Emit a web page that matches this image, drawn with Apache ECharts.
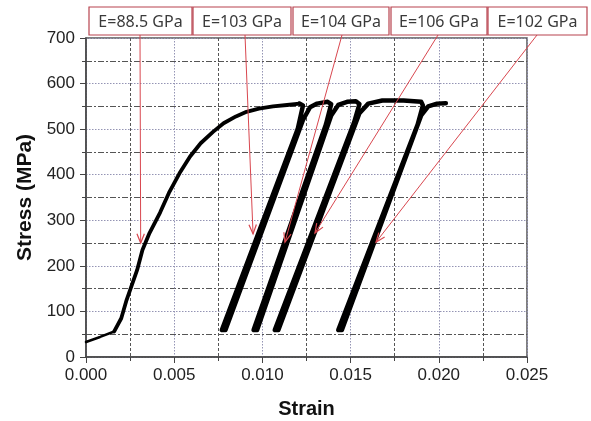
<!DOCTYPE html>
<html>
<head>
<meta charset="UTF-8">
<title>Stress-Strain</title>
<script src="https://cdn.jsdelivr.net/npm/echarts@6/dist/echarts.min.js"></script>
<style>
  html, body { margin: 0; padding: 0; background: #fff; }
  #chart { width: 591px; height: 421px; }
</style>
</head>
<body>
<div id="chart"></div>
<script>
// curve pieces, [strain, stress MPa]
var foot = [[0, 33], [0.0008, 44], [0.0016, 56]]
var loading = [[0.0016, 56], [0.0020, 85], [0.0023, 125], [0.0029, 191],
  [0.0032, 235], [0.0036, 272], [0.0042, 317], [0.0047, 360], [0.0053, 403], [0.0059, 440],
  [0.0065, 469], [0.0072, 494], [0.0078, 513], [0.0085, 528], [0.0091, 538], [0.0098, 545],
  [0.0106, 550], [0.0114, 553], [0.0121, 556]]
var unload1 = [[0.0123, 552], [0.0120, 500], [0.0077, 59]]
var reload1 = [[0.0079, 59], [0.0123, 520], [0.0127, 548], [0.0131, 556], [0.0137, 560]]
var unload2 = [[0.0139, 555], [0.0136, 510], [0.0095, 59]]
var reload2 = [[0.0097, 59], [0.0139, 530], [0.0143, 553], [0.0148, 560], [0.0153, 561]]
var unload3 = [[0.0155, 555], [0.0152, 515], [0.0107, 59]]
var reload3 = [[0.0109, 59], [0.0155, 535], [0.0160, 556], [0.0168, 563], [0.0180, 563], [0.0190, 560]]
var unload4 = [[0.0191, 552], [0.0188, 510], [0.0143, 59]]
var reload4 = [[0.0145, 59], [0.0190, 530], [0.0194, 550], [0.0199, 556], [0.0204, 557]]

var modulusLabels = ['E=88.5 GPa', 'E=103 GPa', 'E=104 GPa', 'E=106 GPa', 'E=102 GPa']
var arrowTargets = [[0.0031, 250], [0.00947, 270], [0.01128, 252], [0.01298, 272], [0.01644, 252]]

var cycles = [].concat(loading.slice(-1), unload1, reload1, unload2, reload2, unload3, reload3, unload4, reload4)

var chart = echarts.init(document.getElementById('chart'))

var dotted = { color: '#9494b4', width: 1, type: [1.5, 1.5] }

function curveSeries(data, w) {
  return {
    type: 'line', data: data, showSymbol: false, symbol: 'none', smooth: false,
    lineStyle: { color: '#000', width: w, join: 'round', cap: 'round' }, z: 5
  }
}

chart.setOption({
  animation: false,
  backgroundColor: '#fff',
  grid: {
    left: 86, right: 64, top: 38, bottom: 64,
    show: true, borderColor: '#555', borderWidth: 1.5,
    containLabel: false, outerBoundsMode: 'none'
  },
  xAxis: {
    type: 'value', min: 0, max: 0.025, interval: 0.005,
    name: 'Strain', nameLocation: 'middle', nameGap: 42,
    nameTextStyle: { fontFamily: 'Liberation Sans', fontWeight: 'bold', fontSize: 20, color: '#111' },
    axisLine: { show: true, onZero: false, lineStyle: { color: '#444', width: 1.5 } },
    axisTick: { show: true, length: 6, lineStyle: { color: '#444' } },
    minorTick: { show: true, splitNumber: 2, length: 4, lineStyle: { color: '#444' } },
    axisLabel: {
      fontFamily: 'Liberation Sans', fontSize: 17, color: '#222', margin: 10,
      formatter: function (v) { return v.toFixed(3) }
    },
    splitLine: { show: true, lineStyle: dotted },
    minorSplitLine: { show: true, lineStyle: { color: '#555', width: 1, type: [3, 2] } }
  },
  yAxis: {
    type: 'value', min: 0, max: 700, interval: 100,
    name: 'Stress (MPa)', nameLocation: 'middle', nameGap: 50,
    nameTextStyle: { fontFamily: 'Liberation Sans', fontWeight: 'bold', fontSize: 21, color: '#111' },
    axisLine: { show: true, onZero: false, lineStyle: { color: '#444', width: 1.5 } },
    axisTick: { show: true, length: 6, lineStyle: { color: '#444' } },
    minorTick: { show: true, splitNumber: 2, length: 4, lineStyle: { color: '#444' } },
    axisLabel: { fontFamily: 'Liberation Sans', fontSize: 17, color: '#222', margin: 11 },
    splitLine: { show: true, lineStyle: dotted },
    minorSplitLine: { show: true, lineStyle: { color: '#555', width: 1, type: [6, 2, 2, 2] } }
  },
  series: [
    curveSeries(foot, 2.5),
    curveSeries(loading, 3.8),
    curveSeries(cycles, 4.5)
  ]
})

// label boxes above the plot with arrows to the curve
var boxes = [[89, 103], [193, 98], [293, 96], [391, 96], [488, 99]]
var arrowStartX = [140, 245, 342, 438, 537]
var boxTop = 7, boxH = 28
var g = []
modulusLabels.forEach(function (txt, i) {
  var b = boxes[i]
  g.push({
    type: 'rect', z: 20,
    shape: { x: b[0], y: boxTop, width: b[1], height: boxH },
    style: { fill: '#fff', stroke: '#b8434f', lineWidth: 1.2 }
  })
  g.push({
    type: 'text', z: 21,
    style: {
      text: txt, x: b[0] + b[1] / 2, y: boxTop + boxH / 2 + 1,
      align: 'center', verticalAlign: 'middle',
      font: '16px "Noto Sans", sans-serif', fill: '#3a3a3a'
    }
  })
  var tip = chart.convertToPixel({ gridIndex: 0 }, arrowTargets[i])
  var sx = arrowStartX[i], sy = boxTop + boxH
  g.push({
    type: 'line', z: 19,
    shape: { x1: sx, y1: sy, x2: tip[0], y2: tip[1] },
    style: { stroke: '#d9474f', lineWidth: 1 }
  })
  var ang = Math.atan2(tip[1] - sy, tip[0] - sx)
  var L = 10, spread = 0.38
  g.push({
    type: 'polyline', z: 19,
    shape: { points: [
      [tip[0] - L * Math.cos(ang - spread), tip[1] - L * Math.sin(ang - spread)],
      tip,
      [tip[0] - L * Math.cos(ang + spread), tip[1] - L * Math.sin(ang + spread)]
    ] },
    style: { stroke: '#d9474f', lineWidth: 1.2, fill: null }
  })
})
chart.setOption({ graphic: g })
</script>
</body>
</html>
